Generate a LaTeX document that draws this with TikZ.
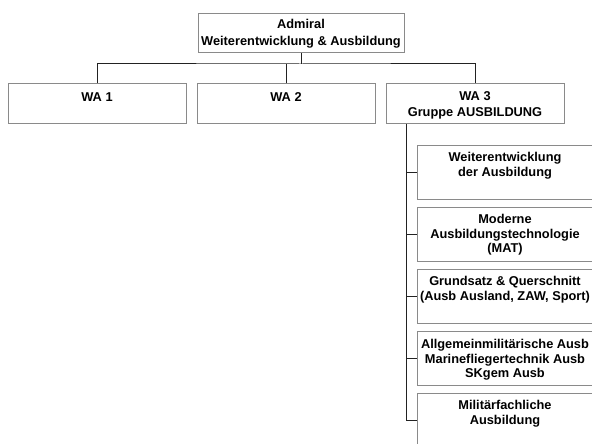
\documentclass[tikz,border=0pt]{standalone}
\usepackage{fontspec}
\setmainfont{Liberation Sans}
\definecolor{boxgrey}{HTML}{8A8A8A}
\definecolor{linedark}{HTML}{222222}
\begin{document}
\begin{tikzpicture}[x=1pt,y=-1pt,
  box/.style={draw=boxgrey, line width=1pt, fill=white, inner sep=0pt,
    minimum width=178pt, minimum height=39pt},
  subbox/.style={draw=boxgrey, line width=1pt, fill=white, inner sep=0pt,
    minimum width=176pt, minimum height=54pt},
  txt/.style={font=\fontsize{12.8}{14.5}\selectfont\bfseries, align=center,
    inner sep=0pt, anchor=north, text=black},
  conn/.style={draw=linedark, line width=1pt}]
\useasboundingbox (0,0) rectangle (592,444);
\clip (0,0) rectangle (592,444);

% top box
\node[box, minimum width=206pt, font=\fontsize{12.8}{17}\selectfont\bfseries,
  align=center, text=black] (adm) at (301,33.5)
  {Admiral\\Weiterentwicklung \& Ausbildung};

% second level
\node[box] (wa1) at (97,103.5) {};
\node[box] (wa2) at (286,103.5) {};
\node[box] (wa3) at (475,103.5) {};
\node[txt] (wa1t) at (97,92.4) {WA 1};
\node[txt] (wa2t) at (286,92.4) {WA 2};
\node[txt, font=\fontsize{12.8}{16}\selectfont\bfseries] (wa3t) at (475,91.4)
  {WA 3\\Gruppe AUSBILDUNG};

% connectors top
\coordinate (bus) at (301,64);
\draw[conn] (adm.south) -- (bus);
\draw[conn] (wa1.north) |- (bus) -| (wa3.north);
\draw[conn] (wa2.north) -- (wa2.north |- bus);

% sub boxes
\node[subbox] (s1) at (505,172) {};
\node[subbox] (s2) at (505,234) {};
\node[subbox] (s3) at (505,296) {};
\node[subbox] (s4) at (505,358) {};
\node[subbox] (s5) at (505,420) {};
\node[txt] (s1t) at (505,152.5) {Weiterentwicklung\\der Ausbildung};
\node[txt] (s2t) at (505,214.5) {Moderne\\Ausbildungstechnologie\\(MAT)};
\node[txt] (s3t) at (505,276.5) {Grundsatz \& Querschnitt\\(Ausb Ausland, ZAW, Sport)};
\node[txt] (s4t) at (505,339.5) {Allgemeinmilitärische Ausb\\Marinefliegertechnik Ausb\\SKgem Ausb};
\node[txt] (s5t) at (505,400.5) {Militärfachliche\\Ausbildung};

% spine
\coordinate (sp) at ([xshift=21pt]wa3.south west);
\draw[conn] (sp) |- (s5.west);
\foreach \i in {1,...,4} \draw[conn] (s\i.west) -- (s\i.west -| sp);
\end{tikzpicture}
\end{document}
